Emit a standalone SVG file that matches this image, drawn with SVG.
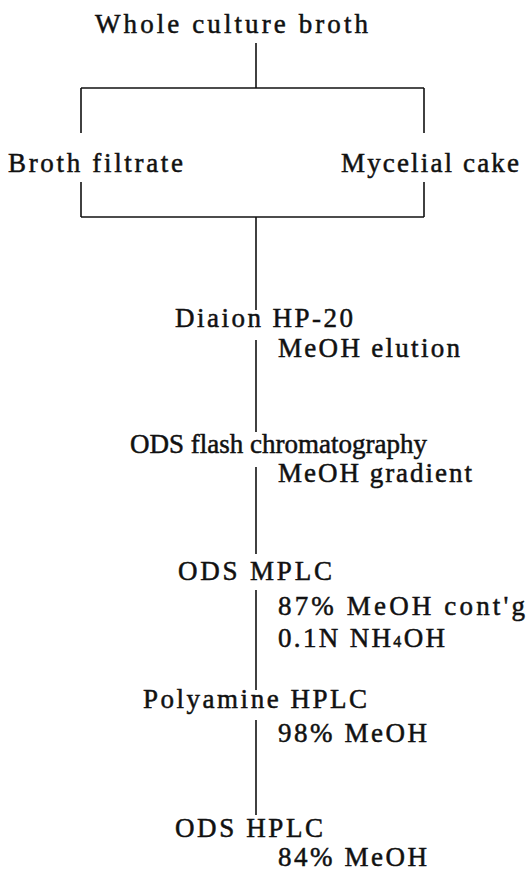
<svg xmlns="http://www.w3.org/2000/svg" width="530" height="871" viewBox="0 0 530 871">
<style>
text{font-family:"Liberation Serif","Times New Roman",serif;font-size:27px;fill:#111;stroke:#111;stroke-width:0.5}
.c line{stroke:#111;stroke-width:1.6;fill:none}
</style>
<rect width="530" height="871" fill="#fff"/>
<g class="c" id="connectors">
<line x1="256" y1="43" x2="256" y2="88"/>
<line x1="81" y1="88" x2="424" y2="88"/>
<line x1="81" y1="88" x2="81" y2="133"/>
<line x1="424" y1="88" x2="424" y2="133"/>
<line x1="81" y1="182" x2="81" y2="217"/>
<line x1="424" y1="182" x2="424" y2="217"/>
<line x1="81" y1="217" x2="424" y2="217"/>
<line x1="256" y1="217" x2="256" y2="310"/>
<line x1="256" y1="340" x2="256" y2="432"/>
<line x1="256" y1="467" x2="256" y2="554"/>
<line x1="256" y1="590" x2="256" y2="690"/>
<line x1="256" y1="720" x2="256" y2="815"/>
</g>
<g id="n1"><text x="95" y="33" textLength="273" lengthAdjust="spacing">Whole culture broth</text></g>
<g id="n2"><text x="8" y="172" textLength="175" lengthAdjust="spacing">Broth filtrate</text></g>
<g id="n3"><text x="341" y="172" textLength="178" lengthAdjust="spacing">Mycelial cake</text></g>
<g id="n4"><text x="175" y="327" textLength="178" lengthAdjust="spacing">Diaion HP-20</text>
<text x="278" y="357" textLength="182" lengthAdjust="spacing">MeOH elution</text></g>
<g id="n5"><text x="130" y="453" textLength="297" lengthAdjust="spacingAndGlyphs">ODS flash chromatography</text>
<text x="278" y="482" textLength="194" lengthAdjust="spacing">MeOH gradient</text></g>
<g id="n6"><text x="178" y="580" textLength="154" lengthAdjust="spacing">ODS MPLC</text>
<text x="278" y="615" textLength="247" lengthAdjust="spacing">87% MeOH cont'g</text>
<text x="278" y="647" textLength="167" lengthAdjust="spacing">0.1N NH<tspan font-size="16">4</tspan>OH</text></g>
<g id="n7"><text x="143" y="708" textLength="224" lengthAdjust="spacing">Polyamine HPLC</text>
<text x="278" y="742" textLength="149" lengthAdjust="spacing">98% MeOH</text></g>
<g id="n8"><text x="175" y="837" textLength="148" lengthAdjust="spacing">ODS HPLC</text>
<text x="278" y="866" textLength="149" lengthAdjust="spacing">84% MeOH</text></g>
</svg>
